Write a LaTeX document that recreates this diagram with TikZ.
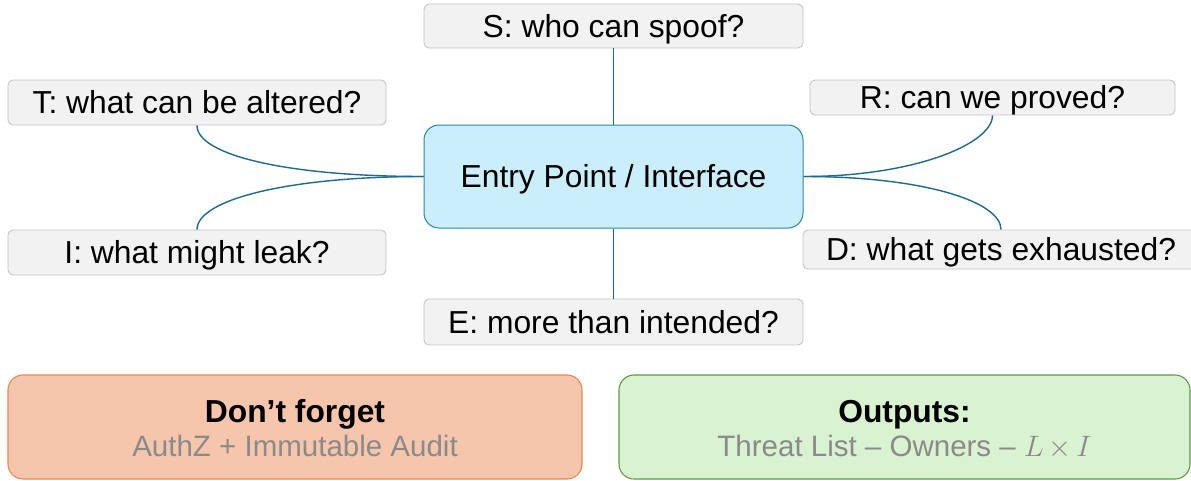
\RequirePackage{fix-cm}
\documentclass[tikz,border=0pt]{standalone}
\usepackage{fontspec}
\setmainfont{Liberation Sans}
\definecolor{qfill}{HTML}{F2F2F2}
\definecolor{qline}{HTML}{C4C4C4}
\definecolor{hubfill}{HTML}{CAEEFB}
\definecolor{hubline}{HTML}{2A84AC}
\definecolor{linkc}{HTML}{1D6A8E}
\definecolor{warnfill}{HTML}{F6C6AC}
\definecolor{warnline}{HTML}{EC8550}
\definecolor{outfill}{HTML}{D9F2D0}
\definecolor{outline}{HTML}{5E9A48}
\definecolor{subtext}{HTML}{8A8A8A}
\tikzset{
  base/.style={inner sep=0pt, align=center, text height=22.8pt, text depth=0pt,
    font=\fontsize{31.8}{38}\selectfont},
  question/.style={base, draw=qline, fill=qfill, line width=0.9pt, rounded corners=5pt},
  hub/.style={base, draw=hubline, fill=hubfill, line width=1pt, rounded corners=15pt},
  summary/.style={draw=#1line, fill=#1fill, line width=1.1pt, rounded corners=15pt,
    minimum width=572pt, minimum height=104pt, inner sep=0pt},
  heading/.style={inner sep=0pt, text height=22.8pt, text depth=0pt,
    font=\fontsize{31.8}{38}\selectfont\bfseries},
  detail/.style={inner sep=0pt, text height=21.1pt, text depth=0pt, text=subtext,
    font=\fontsize{29.5}{36}\selectfont},
  link/.style={draw=linkc, line width=1.4pt}
}
\begin{document}
\begin{tikzpicture}[x=1pt, y=-1pt]
\useasboundingbox (0,0) rectangle (1191,480);

% central entry point and the six STRIDE questions
\node[hub, minimum width=379pt, minimum height=103pt] (hub) at (613.5,176.5) {Entry Point / Interface};
\node[question, minimum width=379pt, minimum height=44pt] (S) at (613.5,26) {S: who can spoof?};
\node[question, minimum width=378pt, minimum height=45pt] (T) at (197,102.5) {T: what can be altered?};
\node[question, minimum width=365pt, minimum height=35pt] (R) at (992.5,97.5) {R: can we proved?};
\node[question, minimum width=378pt, minimum height=45pt] (I) at (197,252.5) {I: what might leak?};
\node[question, minimum width=396pt, minimum height=39pt] (D) at (1001,249.5) {D: what gets exhausted?};
\node[question, minimum width=379pt, minimum height=46pt] (E) at (613.5,322) {E: more than intended?};

% connectors from the hub
\draw[link] (S.south) -- (hub.north);
\draw[link] (hub.south) -- (E.north);
\draw[link] (T.south) .. controls +(0,30) and +(-135,0) .. (hub.west);
\draw[link] (I.north) .. controls +(0,-30) and +(-135,0) .. (hub.west);
\draw[link] (R.south) .. controls +(0,28) and +(112,0) .. (hub.east);
\draw[link] (D.north) .. controls +(0,-28) and +(120,0) .. (hub.east);

% summary panels
\node[summary=warn, minimum width=574pt] (warn) at (295,427) {};
\node[heading] (warnhead) at (295,411) {Don’t forget};
\node[detail] (warntext) at (295,446) {AuthZ + Immutable Audit};

\node[summary=out, minimum width=571pt] (out) at (904.5,427) {};
\node[heading] (outhead) at (904.5,411) {Outputs:};
\node[detail] (outtext) at (904.5,446) {Threat List – Owners – $L\,{\times}\,I$};
\end{tikzpicture}
\end{document}
